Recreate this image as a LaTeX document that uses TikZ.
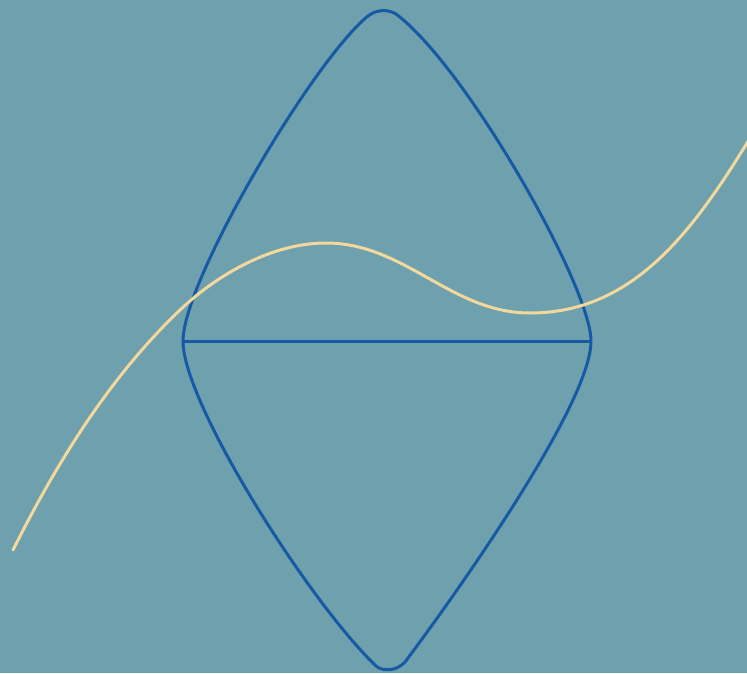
\documentclass[tikz,border=0pt]{standalone}
\definecolor{bgteal}{RGB}{111,160,174}
\definecolor{lineblue}{RGB}{22,90,166}
\definecolor{cream}{RGB}{242,216,156}
\tikzset{
  blueline/.style={draw=lineblue,line width=3pt,line join=round},
  creamline/.style={draw=cream,line width=3pt,line cap=round}
}
\begin{document}
\begin{tikzpicture}[x=1pt,y=-1pt]
\fill[bgteal] (0,0) rectangle (747,673);
\useasboundingbox (0,0) rectangle (747,673);
\begin{scope}
\clip (0,0) rectangle (747,673);
% named points of the shape
\coordinate (L) at (183,341);
\coordinate (R) at (591,341);
\coordinate (T1) at (368,16);
\coordinate (T2) at (396,14);
\coordinate (B1) at (405,662);
\coordinate (B2) at (376,666);
% diamond-like shape with curved sides
\draw[blueline] (L) .. controls (183,280) and (313.6,60) .. (T1)
  .. controls (376,9.5) and (388,9) .. (T2)
  .. controls (466.4,66.8) and (591,287) .. (R)
  .. controls (591,404) and (455.4,594.8) .. (B1)
  .. controls (397,671) and (383,672) .. (B2)
  .. controls (309.3,602.1) and (183,403.6) .. (L) -- cycle;
\draw[blueline] (L) -- (R);
% cream curve
\coordinate (C0) at (13,550);
\coordinate (C1) at (180,310);
\coordinate (C2) at (326,243);
\coordinate (C3) at (530,313);
\coordinate (C4) at (747,143);
\coordinate (C5) at (757,127);
\draw[creamline] (C0) .. controls (56.4,463.3) and (109.7,376.8) .. (C1)
  .. controls (218.4,273.5) and (273,243) .. (C2)
  .. controls (405,243) and (451,313) .. (C3)
  .. controls (630,313) and (689.5,236.7) .. (C4) -- (C5);
\end{scope}
\end{tikzpicture}
\end{document}
